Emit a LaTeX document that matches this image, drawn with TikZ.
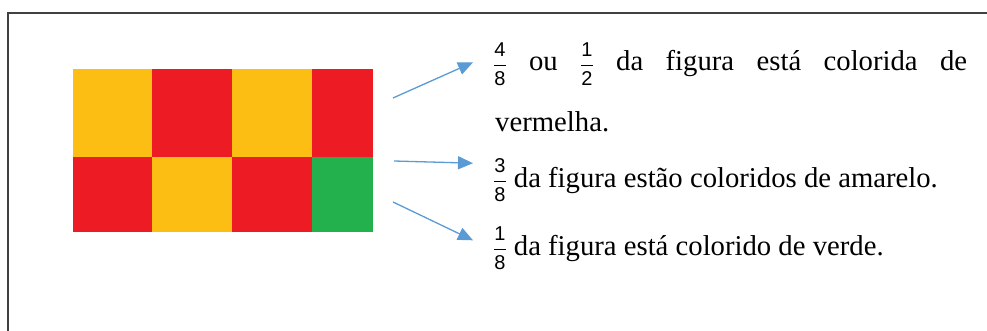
\documentclass[tikz,border=0pt]{standalone}
\usepackage{amsmath}
\usepackage{fontspec}
\setmainfont{Liberation Serif}
\setsansfont{Liberation Sans}
\usetikzlibrary{arrows.meta,positioning}
\definecolor{amarelo}{HTML}{FDBE13}
\definecolor{vermelho}{HTML}{ED1C24}
\definecolor{verde}{HTML}{22B14C}
\definecolor{azulseta}{HTML}{5B9BD5}
\newcommand{\fr}[2]{{\fontsize{20}{20}\selectfont$\dfrac{\mathsf{#1}}{\mathsf{#2}}$}}
\tikzset{
  texto/.style={anchor=base west,inner xsep=20pt,inner ysep=0pt},
  seta/.style={-{Triangle[length=15pt,width=13pt]},line width=1.3pt,azulseta},
}

\begin{document}
\begin{tikzpicture}[x=1pt,y=-1pt,font=\fontsize{28.7}{32}\selectfont]
\useasboundingbox (0,0) rectangle (987,331);
\draw[line width=2pt,black!75] (8,331) -- (8,13) -- (987,13);
% figura: 8 partes
\foreach \xa/\xb/\ya/\yb/\c in {73/152/69/157/amarelo,152/232/69/157/vermelho,
    232/312/69/157/amarelo,312/373/69/157/vermelho,73/152/157/232/vermelho,
    152/232/157/232/amarelo,232/312/157/232/vermelho,312/373/157/232/verde}
  \fill[\c] (\xa,\ya) rectangle (\xb,\yb);
% textos
\node[texto] (t1) at (473,71) {\makebox[474pt][s]{\fr48 ou \fr12 da figura está colorida de}};
\node[texto] (t2) at (475,132) {vermelha.};
\node[texto] (t3) at (473,187) {\fr38 da figura estão coloridos de amarelo.};
\node[texto] (t4) at (473,255) {\fr18 da figura está colorido de verde.};
% setas
\coordinate (s1) at (393,98);
\coordinate (s2) at (394,161);
\coordinate (s3) at (393,202);
\draw[seta] (s1) -- ([yshift=2pt]t1.west);
\draw[seta] (s2) -- ([yshift=17pt]t3.west);
\draw[seta] (s3) -- ([yshift=8pt]t4.west);
\end{tikzpicture}
\end{document}
